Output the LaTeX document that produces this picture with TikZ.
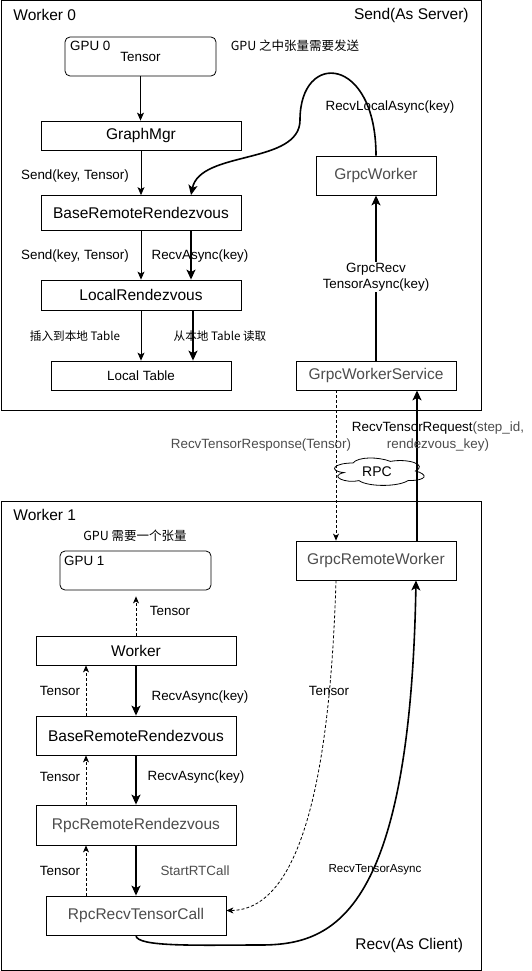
\documentclass[tikz,border=0pt]{standalone}
\usepackage{fontspec}
\setmainfont{Liberation Sans}
\newfontfamily\cjk{Noto Sans CJK SC}
\usetikzlibrary{arrows.meta}
\definecolor{txtgray}{gray}{0.3}

\begin{document}
\begin{tikzpicture}[x=1pt,y=-1pt,
  box/.style={draw,line width=0.8pt,inner sep=0pt,font=\fontsize{15.5}{18}\selectfont},
  lab/.style={inner sep=0pt,font=\fontsize{13.4}{17}\selectfont},
  small/.style={inner sep=0pt,font=\fontsize{11.6}{14}\selectfont},
  arr/.style={line width=0.8pt,-{Stealth[length=8pt,width=7pt,inset=2pt]}},
  tarr/.style={line width=1.6pt,-{Stealth[length=10pt,width=9pt,inset=2.5pt]}},
  darr/.style={line width=0.8pt,dash pattern=on 3pt off 2pt,-{Stealth[length=7pt,width=6pt,inset=2pt]}}]

\useasboundingbox (0,0) rectangle (531,971);

\draw[line width=1pt] (1,1) rectangle (481,410);
\draw[line width=1pt] (1,501) rectangle (481,970);

\node[box,draw=none,anchor=west] (w0) at (13,15) {Worker 0};
\node[box,draw=none,anchor=east] (srv) at (469,15) {Send(As Server)};
\node[box,draw=none,anchor=west] (w1) at (13,515) {Worker 1};
\node[box,draw=none,anchor=west] (cli) at (355,945) {Recv(As Client)};

\node[box,lab,draw,rounded corners=5pt,minimum width=151pt,minimum height=39pt] (gpu0) at (140.5,56.5) {Tensor};
\node[lab,anchor=west] (gpu0name) at (70,46) {GPU 0};
\node[box,minimum width=200pt,minimum height=29pt] (graphmgr) at (141,135.5) {GraphMgr};
\node[box,minimum width=200pt,minimum height=35pt] (brr0) at (141,213) {BaseRemoteRendezvous};
\node[box,minimum width=200pt,minimum height=30pt] (localrdv) at (141,295) {LocalRendezvous};
\node[box,lab,draw,minimum width=180pt,minimum height=29pt] (localtable) at (141,375.5) {Local Table};
\node[box,text=txtgray,minimum width=120pt,minimum height=39pt] (grpcworker) at (376,175.5) {GrpcWorker};
\node[box,text=txtgray,minimum width=160pt,minimum height=29pt] (grpcsvc) at (376,375.5) {GrpcWorkerService};

\node[lab,font=\cjk\fontsize{12.5}{15}\selectfont] (gpu0note) at (295,46) {GPU 之中张量需要发送};
\node[lab] (sendlab1) at (75,176) {Send(key, Tensor)};
\node[lab] (sendlab2) at (75,256) {Send(key, Tensor)};
\node[lab] (recvlab0) at (200,256) {RecvAsync(key)};
\node[small,font=\cjk\fontsize{11.6}{14}\selectfont] (insertlab) at (75,336) {插入到本地 Table};
\node[small,font=\cjk\fontsize{11.6}{14}\selectfont] (readlab) at (220,336) {从本地 Table 读取};
\node[lab] (locallab) at (390,107) {RecvLocalAsync(key)};

\draw[arr] (gpu0.south) -- (gpu0.south |- graphmgr.north);
\draw[arr] (graphmgr.south) -- (brr0.north);
\draw[arr] (brr0.south) -- (localrdv.north);
\draw[tarr] ([xshift=50pt]brr0.south) -- ([xshift=50pt]localrdv.north);
\draw[arr] (localrdv.south) -- (localtable.north);
\draw[tarr] ([xshift=52pt]localrdv.south) -- ([xshift=52pt]localrdv.south |- localtable.north);
\draw[tarr] (grpcsvc.north) -- (grpcworker.south);
\node[lab,align=center,fill=white,inner sep=1pt,font=\fontsize{13.4}{15.5}\selectfont] (grpcrecvlab) at (376,277) {GrpcRecv\\TensorAsync(key)};
\draw[tarr] (grpcworker.north) .. controls +(0,-100) and (300,50) .. (300,120)
  .. controls (300,165) and (200,150) .. ([xshift=50pt]brr0.north);

\node[box,text=txtgray,minimum width=160pt,minimum height=39pt] (grpcrw) at (376,560.5) {GrpcRemoteWorker};
\draw[darr] ([xshift=-40pt]grpcsvc.south) -- ([xshift=-40pt]grpcrw.north);
\draw[tarr] ([xshift=41pt]grpcrw.north) -- ([xshift=41pt]grpcsvc.south);
\begin{scope}[shift={(328,455)},x=100pt,y=-32pt]
\draw[line width=0.8pt] (0.25,0.25) .. controls (0.05,0.25) and (0,0.5) .. (0.16,0.55)
  .. controls (0,0.66) and (0.18,0.9) .. (0.31,0.8) .. controls (0.4,1) and (0.7,1) .. (0.8,0.8)
  .. controls (1,0.8) and (1,0.6) .. (0.875,0.5) .. controls (1,0.3) and (0.8,0.1) .. (0.625,0.2)
  .. controls (0.5,0.05) and (0.3,0.05) .. (0.25,0.25) -- cycle;
\end{scope}
\node[lab,font=\fontsize{14}{17}\selectfont] (rpc) at (377,472) {RPC};
\node[lab,align=center] (reqlab) at (438,436.5)
  {RecvTensorRequest\textcolor{txtgray}{(step\_id,}\\\textcolor{txtgray}{rendezvous\_key)}};
\node[lab,text=txtgray] (resplab) at (261,445) {RecvTensorResponse(Tensor)};

\node[lab,font=\cjk\fontsize{12.5}{15}\selectfont] (gpu1note) at (135,536) {GPU 需要一个张量};
\node[box,draw,rounded corners=5pt,minimum width=151pt,minimum height=39pt] (gpu1) at (135.5,570.5) {};
\node[lab,anchor=west] (gpu1name) at (64,561) {GPU 1};
\node[box,minimum width=200pt,minimum height=29pt] (worker) at (136,650.5) {Worker};
\node[box,minimum width=200pt,minimum height=39pt] (brr1) at (136,735.5) {BaseRemoteRendezvous};
\node[box,text=txtgray,minimum width=200pt,minimum height=40pt] (rpcrdv) at (136,825) {RpcRemoteRendezvous};
\node[box,text=txtgray,minimum width=180pt,minimum height=39pt] (rpccall) at (136,915.5) {RpcRecvTensorCall};

\draw[darr,shorten >=6pt] (worker.north) -- (worker.north |- gpu1.south);
\draw[tarr] (worker.south) -- (brr1.north);
\draw[darr] ([xshift=-50pt]brr1.north) -- ([xshift=-50pt]worker.south);
\draw[tarr] (brr1.south) -- (rpcrdv.north);
\draw[darr] ([xshift=-50pt]rpcrdv.north) -- ([xshift=-50pt]brr1.south);
\draw[tarr] (rpcrdv.south) -- (rpccall.north);
\draw[darr] ([xshift=-50pt]rpccall.north) -- ([xshift=-50pt]rpcrdv.south);

\node[lab] (tlab1) at (170,611) {Tensor};
\node[lab] (recvlab1) at (200,697) {RecvAsync(key)};
\node[lab] (tlab2) at (60,691) {Tensor};
\node[lab] (recvlab2) at (196,777) {RecvAsync(key)};
\node[lab] (tlab3) at (60,777) {Tensor};
\node[lab,text=txtgray] (rtlab) at (195,871) {StartRTCall};
\node[lab] (tlab4) at (60,871) {Tensor};

\draw[darr] ([xshift=-40pt]grpcrw.south) .. controls (330,780) and (300,910) .. ([yshift=5pt]rpccall.east);
\node[lab] (tlab5) at (329,691) {Tensor};
\draw[tarr] (rpccall.south) .. controls +(0,12) and (200,945) .. (260,945)
  .. controls (330,945) and (410,920) .. ([xshift=40pt]grpcrw.south);
\node[small] (asynclab) at (375,870) {RecvTensorAsync};

\end{tikzpicture}
\end{document}
